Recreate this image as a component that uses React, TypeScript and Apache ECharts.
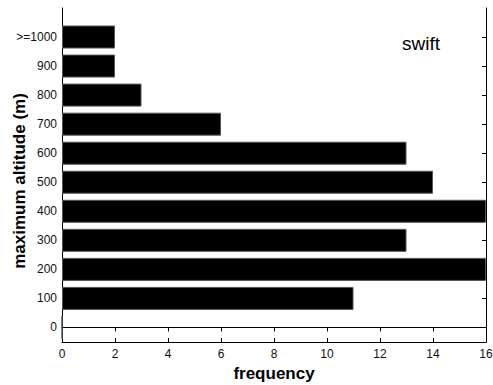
import React, { useEffect, useRef } from "react";
import * as echarts from "echarts";

const categories = ["0", "100", "200", "300", "400", "500", "600", "700", "800", "900", ">=1000"];
const frequency = [0, 11, 16, 13, 16, 14, 13, 6, 3, 2, 2];
const xMin = 0;
const xMax = 16;
const xInterval = 2;
const yValueMin = -0.5;
const yValueMax = 11;

const FONT = "Liberation Sans, Arial, sans-serif";

export default function App() {
  const ref = useRef<HTMLDivElement>(null);
  useEffect(() => {
    if (!ref.current) return;
    const chart = echarts.init(ref.current, null, { renderer: "svg" });
    const line = { show: true, lineStyle: { color: "#000", width: 1 } };
    chart.setOption({
      animation: false,
      backgroundColor: "#fff",
      textStyle: { fontFamily: FONT },
      grid: [
        { left: 62, right: 7, top: 22.5, bottom: 43, containLabel: false, outerBoundsMode: "none" },
        { left: 62, right: 7, top: 8, bottom: 43, containLabel: false, outerBoundsMode: "none" },
      ],
      xAxis: [
        {
          type: "value",
          gridIndex: 0,
          min: xMin,
          max: xMax,
          interval: xInterval,
          position: "bottom",
          axisLine: line,
          axisTick: { show: true, inside: true, length: 4, lineStyle: { color: "#000" } },
          axisLabel: { color: "#111", fontSize: 12, margin: 6, fontFamily: FONT },
          splitLine: { show: false },
          name: "frequency",
          nameLocation: "middle",
          nameGap: 20,
          nameTextStyle: { color: "#000", fontSize: 17, fontWeight: "bold", fontFamily: FONT },
        },
        {
          type: "value",
          gridIndex: 1,
          min: xMin,
          max: xMax,
          interval: xInterval,
          position: "top",
          axisLine: line,
          axisTick: { show: true, inside: true, length: 4, lineStyle: { color: "#000" } },
          axisLabel: { show: false },
          splitLine: { show: false },
        },
      ],
      yAxis: [
        {
          type: "category",
          gridIndex: 0,
          data: categories,
          position: "left",
          axisLine: { show: false },
          axisTick: { show: true, inside: true, alignWithLabel: true, length: 4, lineStyle: { color: "#000" } },
          axisLabel: { color: "#111", fontSize: 12, margin: 5, fontFamily: FONT },
          splitLine: { show: false },
        },
        {
          type: "category",
          gridIndex: 0,
          data: categories,
          position: "right",
          axisLine: { show: false },
          axisTick: { show: true, inside: true, alignWithLabel: true, length: 4, lineStyle: { color: "#000" } },
          axisLabel: { show: false },
          splitLine: { show: false },
        },
        {
          type: "value",
          gridIndex: 1,
          min: yValueMin,
          max: yValueMax,
          position: "left",
          axisLine: line,
          axisTick: { show: false },
          axisLabel: { show: false },
          splitLine: { show: false },
        },
        {
          type: "value",
          gridIndex: 1,
          min: yValueMin,
          max: yValueMax,
          position: "right",
          axisLine: line,
          axisTick: { show: false },
          axisLabel: { show: false },
          splitLine: { show: false },
        },
      ],
      series: [
        {
          type: "bar",
          xAxisIndex: 0,
          yAxisIndex: 0,
          data: frequency,
          barWidth: 23,
          itemStyle: { color: "#000", borderColor: "#555", borderWidth: 1 },
          z: 3,
        },
      ],
      graphic: [
        {
          type: "text",
          x: 421,
          y: 43,
          style: {
            text: "swift",
            fontSize: 19,
            fontFamily: FONT,
            fill: "#000",
            textAlign: "center",
            textVerticalAlign: "middle",
          },
        },
        {
          type: "text",
          x: 19,
          y: 181,
          rotation: Math.PI / 2,
          style: {
            text: "maximum altitude (m)",
            fontSize: 17,
            fontWeight: "bold",
            fontFamily: FONT,
            fill: "#000",
            textAlign: "center",
            textVerticalAlign: "middle",
          },
        },
      ],
    });
    return () => chart.dispose();
  }, []);
  return (
    <div
      ref={ref}
      style={{ position: "fixed", left: 0, top: 0, width: 493, height: 385, background: "#fff" }}
    />
  );
}
